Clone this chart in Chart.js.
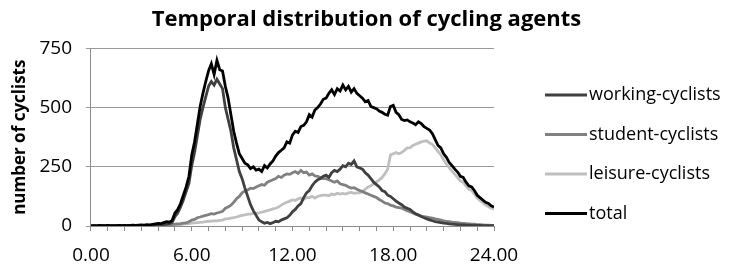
<!DOCTYPE html>
<html>
<head>
<meta charset="utf-8">
<script src="https://cdn.jsdelivr.net/npm/chart.js@4.4.1/dist/chart.umd.min.js"></script>
<style>
  html, body { margin: 0; padding: 0; background: #fff; }
  #wrap { width: 733px; height: 265px; }
</style>
</head>
<body>
<div id="wrap"><canvas id="cyclingChart"></canvas></div>
<script>
// one value every 10 minutes, 0.00 .. 24.00 (145 points)
const seriesNames = ['working-cyclists', 'student-cyclists', 'leisure-cyclists', 'total'];
const xTickLabels = ['0.00', '6.00', '12.00', '18.00', '24.00'];
const yTickValues = [0, 250, 500, 750];

const working = [
  0, 0, 0, 0, 0, 0,
  0, 0, 0, 0, 0, 0,
  0, 0, 0, 0, 0, 0,
  0, 0, 1, 0, 1, 2,
  3, 4, 6, 8, 10, 15,
  40, 55, 80, 110, 145, 180,
  255, 310, 380, 450, 500, 545,
  590, 610, 595, 620, 600, 580,
  500, 450, 400, 330, 280, 230,
  200, 160, 125, 90, 65, 45,
  25, 18, 12, 15, 10, 14,
  20, 18, 25, 30, 35, 45,
  60, 70, 85, 95, 120, 140,
  150, 170, 185, 195, 200, 210,
  215, 205, 225, 235, 230, 240,
  255, 250, 265, 260, 275, 250,
  245, 240, 225, 215, 200, 185,
  175, 165, 150, 145, 130, 125,
  115, 105, 97, 90, 80, 75,
  70, 60, 52, 46, 40, 35,
  30, 26, 22, 18, 16, 14,
  12, 11, 9, 8, 7, 6,
  5, 5, 4, 4, 3, 3,
  3, 3, 2, 2, 2, 1,
  1
];

const student = [
  0, 0, 0, 0, 0, 0,
  0, 0, 0, 0, 0, 0,
  0, 0, 0, 0, 0, 0,
  0, 0, 0, 1, 1, 1,
  2, 3, 3, 5, 4, 6,
  8, 9, 10, 12, 13, 18,
  25, 28, 35, 38, 42, 45,
  48, 52, 50, 55, 58, 62,
  75, 80, 88, 100, 115, 125,
  140, 148, 152, 160, 158, 165,
  170, 175, 172, 185, 190, 195,
  200, 210, 205, 215, 220, 218,
  225, 230, 222, 235, 225, 228,
  215, 220, 212, 210, 205, 200,
  200, 195, 190, 185, 190, 178,
  175, 172, 165, 160, 162, 155,
  150, 145, 140, 135, 130, 125,
  120, 112, 105, 97, 95, 88,
  85, 80, 78, 76, 70, 65,
  60, 55, 50, 46, 42, 40,
  38, 35, 33, 30, 28, 25,
  22, 20, 18, 16, 15, 14,
  12, 11, 10, 9, 8, 8,
  6, 6, 5, 4, 4, 3,
  3
];

const leisure = [
  0, 0, 0, 0, 0, 0,
  0, 0, 0, 0, 0, 0,
  0, 0, 0, 0, 0, 0,
  0, 0, 0, 0, 1, 1,
  1, 2, 2, 3, 3, 4,
  5, 6, 6, 8, 9, 10,
  12, 13, 14, 15, 16, 18,
  20, 21, 22, 22, 24, 25,
  30, 31, 33, 35, 38, 42,
  45, 47, 50, 50, 53, 54,
  55, 58, 62, 65, 68, 72,
  75, 80, 88, 95, 100, 105,
  110, 108, 115, 118, 112, 120,
  120, 125, 118, 125, 128, 130,
  130, 128, 135, 132, 138, 135,
  138, 135, 140, 142, 138, 140,
  140, 145, 155, 165, 170, 178,
  185, 195, 205, 220, 240, 300,
  305, 310, 305, 310, 320, 330,
  330, 340, 345, 350, 355, 358,
  360, 350, 345, 330, 315, 300,
  280, 262, 245, 232, 218, 205,
  190, 185, 168, 155, 150, 135,
  118, 108, 98, 88, 82, 75,
  72
];

const total = [
  0, 1, 0, 2, 1, 1,
  2, 1, 2, 2, 3, 2,
  3, 2, 3, 4, 3, 4,
  5, 4, 6, 5, 7, 9,
  11, 10, 14, 18, 16, 24,
  55, 70, 95, 130, 165, 210,
  300, 355, 430, 505, 560, 610,
  655, 685, 640, 700, 660, 655,
  590, 540, 470, 400, 350, 305,
  285, 265, 258, 242, 250, 236,
  240, 230, 255, 245, 262, 275,
  295, 310, 320, 330, 355, 350,
  385, 400, 395, 420, 425, 440,
  470, 460, 490, 500, 515, 535,
  540, 560, 575, 555, 580, 570,
  595, 575, 590, 565, 580, 560,
  550, 540, 525, 530, 505, 500,
  495, 485, 480, 472, 468, 505,
  510, 480, 470, 450, 445, 448,
  440, 435, 428, 440, 432, 420,
  412, 405, 390, 365, 340, 330,
  305, 290, 268, 255, 240, 228,
  210, 205, 185, 170, 165, 150,
  130, 120, 110, 100, 95, 85,
  80
];

const colors = ['#404040', '#808080', '#bfbfbf', '#000000'];
const FONT = '"Open Sans", "Noto Sans", sans-serif';

const values = [working, student, leisure, total];
const toPoints = arr => arr.map((v, i) => ({ x: i / 6, y: v }));

// legend drawn to the right of the plot, like the spreadsheet original
const sideLegend = {
  id: 'sideLegend',
  afterDraw(chart) {
    const c = chart.ctx;
    c.save();
    c.font = '18px ' + FONT;
    c.textBaseline = 'middle';
    c.fillStyle = '#000';
    chart.data.datasets.forEach((ds, i) => {
      const y = 95 + i * 39.5;
      c.strokeStyle = ds.borderColor;
      c.lineWidth = 3;
      c.beginPath();
      c.moveTo(545, y);
      c.lineTo(587, y);
      c.stroke();
      c.fillText(ds.label, 589, y);
    });
    c.restore();
  }
};

const ctx = document.getElementById('cyclingChart').getContext('2d');
new Chart(ctx, {
  type: 'line',
  data: {
    datasets: seriesNames.map((name, k) => ({
      label: name,
      data: toPoints(values[k]),
      borderColor: colors[k],
      backgroundColor: colors[k],
      borderWidth: 2.8,
      pointRadius: 0,
      tension: 0,
      order: k === 3 ? 0 : k + 1
    }))
  },
  options: {
    responsive: true,
    maintainAspectRatio: false,
    animation: false,
    layout: { padding: { left: 10, right: 10, top: 4, bottom: 2 } },
    plugins: {
      title: {
        display: true,
        text: 'Temporal distribution of cycling agents',
        color: '#000',
        font: { family: FONT, size: 22, weight: 'bold' },
        padding: { top: 3, bottom: 15 }
      },
      legend: { display: false },
      tooltip: { enabled: false }
    },
    scales: {
      x: {
        type: 'linear',
        min: 0,
        max: 24,
        border: { color: '#8c8c8c' },
        grid: { drawOnChartArea: false, drawTicks: true, tickLength: 5, color: '#8c8c8c' },
        ticks: {
          stepSize: 1,
          autoSkip: false,
          maxRotation: 0,
          color: '#000',
          padding: 15,
          font: { family: FONT, size: 19, lineHeight: 1 },
          callback: v => (v % 6 === 0 ? xTickLabels[v / 6] : '')
        },
        afterFit: s => { s.height = 37; }
      },
      y: {
        min: 0,
        max: 750,
        border: { color: '#8c8c8c' },
        grid: { color: '#9a9a9a', tickLength: 5 },
        ticks: {
          stepSize: 250,
          color: '#000',
          padding: 14,
          font: { family: FONT, size: 19 },
          callback: v => (yTickValues.includes(v) ? String(v) : '')
        },
        title: {
          display: true,
          text: 'number of cyclists',
          color: '#000',
          font: { family: FONT, size: 17, weight: 'bold' },
          padding: { top: 0, bottom: 9 }
        },
        afterFit: s => { s.width -= 14; }
      },
      // empty axis that keeps the right-hand space free for the legend
      legendSpace: {
        position: 'right',
        display: true,
        ticks: { display: false },
        grid: { display: false },
        border: { display: false },
        afterFit: s => { s.width = 229; }
      }
    }
  },
  plugins: [sideLegend]
});
</script>
</body>
</html>
